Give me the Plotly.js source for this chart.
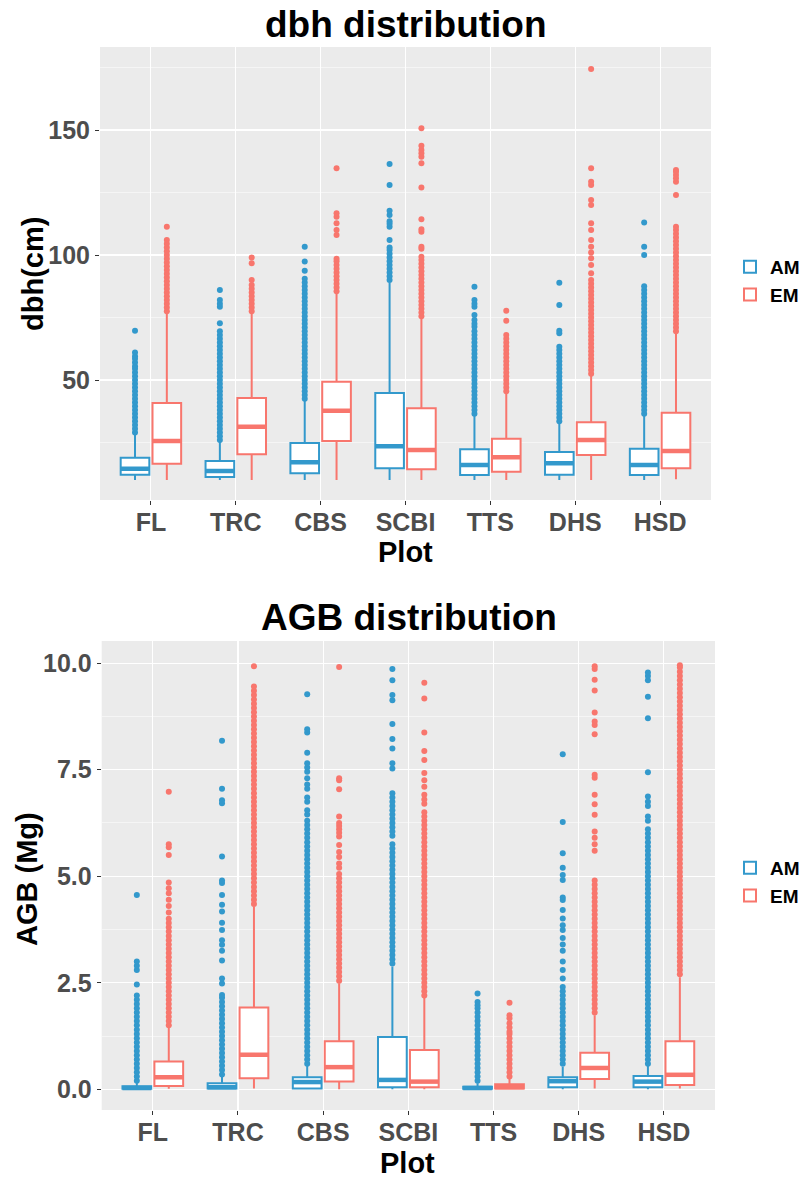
<!DOCTYPE html>
<html>
<head>
<meta charset="utf-8">
<script src="https://cdn.plot.ly/plotly-3.0.1.min.js"></script>
<style>
  html, body { margin: 0; padding: 0; background: #ffffff; }
  #chart { width: 810px; height: 1180px; }
</style>
</head>
<body>
<div id="chart"></div>
<script>
// Plots (x categories) and mycorrhizal groups
const categories = ['FL', 'TRC', 'CBS', 'SCBI', 'TTS', 'DHS', 'HSD'];
const groups = ['AM', 'EM'];

// ---- dbh (cm): box statistics per plot ----
const dbhAmQ1  = [12.1, 11.2, 12.7, 14.7, 12.0, 12.1, 12.0];
const dbhAmMed = [14.5, 13.6, 17.1, 23.5, 16.0, 16.7, 16.0];
const dbhAmQ3  = [18.9, 17.6, 24.8, 44.8, 22.3, 21.2, 22.5];
const dbhAmLo  = [10, 10, 10, 10, 10, 10, 10];
const dbhAmHi  = [28.4, 25.3, 42.0, 89.0, 36.0, 32.7, 36.0];

const dbhEmQ1  = [16.5, 20.3, 25.6, 14.3, 13.3, 20.0, 14.7];
const dbhEmMed = [25.6, 31.3, 37.7, 22.0, 19.1, 26.0, 21.6];
const dbhEmQ3  = [40.8, 42.8, 49.3, 38.7, 26.5, 33.1, 36.9];
const dbhEmLo  = [10, 10, 10, 10, 10, 10, 10.3];
const dbhEmHi  = [76.7, 76.8, 84.7, 74.7, 44.7, 51.6, 68.7];

// dbh outliers per plot
const dbhAmOut = [
  [29,30.5,32,33.5,35,36.5,38,39.5,41,42.5,44,45.5,47,48.5,50,51.5,53,54.5,55.5,57,58.5,59.5,61,69.7],
  [26,27.5,29,30.5,32,33.5,35,36.5,38,39.5,41,42.5,44,45.5,47,48.5,50,51.5,53,54.5,56,57.5,59,60.5,62,63.5,65,66.5,68,69.5,72.7,79.3,80.5,82,86],
  [42.5,44,45.5,47,48.5,50,51.5,53,54.5,56,57.5,59,60.5,62,63.5,65,66.5,68,69.5,71,72.5,74,75.5,77,78.5,80,81.5,83,84.5,86,87.5,89,90.5,93.7,97.4,103.3],
  [90,91.5,93,94.5,96,97.5,99,100.5,102,103,106,111.3,112.5,113.5,116,117.7,128,136.4],
  [36.5,38,39.5,41,42.5,44,45.5,47,48.5,50,51.5,53,54.5,56,57.5,59,60.5,62,63.5,65,66.5,68,69.5,71.3,72.5,74,76,79.3,80.5,82,87.3],
  [33.5,35,36.5,38,39.5,41,42.5,44,45.5,47,48.5,50,51.5,53,54.5,56,57.5,59,60.5,62,63.3,68.7,69.7,80,88.9],
  [36.5,38,39.5,41,42.5,44,45.5,47,48.5,50,51.5,53,54.5,56,57.5,59,60.5,62,63.5,65,66.5,68,69.5,71,72.5,74,75.5,77,78.5,80,81.5,83,84.5,86,87.5,100,103.3,113]
];
const dbhEmOut = [
  [77.5,79,80.5,82,83.5,85,86.5,88,89.5,91,92.5,94,95.5,97,98.5,100,101.5,103,104.5,106,111.3],
  [77.5,79,80.5,82,83.5,85,86.5,88,90,96.7,99],
  [85.5,87,88.5,90,91.5,93,94.5,96,97.5,98.5,108,110,112.7,115.3,116.7,134.7],
  [75.5,77,78.5,80,81.5,83,84.5,86,87.5,89,90.5,92,93.5,95,96.5,98,99.3,102.5,103.3,109.3,110.3,114.3,127,136.7,139.3,140.7,142,143.7,150.7],
  [45.5,47,48.5,50,51.5,53,54.5,56,57.5,59,60.5,62,63.5,65,66.5,68,73.7,77.7],
  [52.5,54,55.5,57,58.5,60,61.5,63,64.5,66,67.5,69,70.5,72,73.5,75,76.5,78,79.5,81,82.5,84,85.5,87,88.5,90,92.7,96,98.7,101,103.3,106,110,112.7,120,122,128,129.3,134.7,174.4],
  [69.5,71,72.5,74,75.5,77,78.5,80,81.5,83,84.5,86,87.5,89,90.5,92,93.5,95,96.5,98,99.5,101,102.5,104,105.5,107,108.5,110,111.3,124,129.3,130.7,132,133.3,134]
];

// ---- AGB (Mg): box statistics per plot ----
const agbAmQ1  = [0.01, 0.02, 0.02, 0.05, 0.01, 0.05, 0.05];
const agbAmMed = [0.03, 0.05, 0.17, 0.22, 0.03, 0.19, 0.18];
const agbAmQ3  = [0.07, 0.14, 0.28, 1.23, 0.06, 0.28, 0.31];
const agbAmLo  = [0.0, 0.0, 0.0, 0.0, 0.0, 0.0, 0.0];
const agbAmHi  = [0.15, 0.30, 0.57, 2.88, 0.14, 0.53, 0.57];

const agbEmQ1  = [0.08, 0.26, 0.18, 0.05, 0.02, 0.24, 0.10];
const agbEmMed = [0.28, 0.81, 0.52, 0.18, 0.05, 0.50, 0.34];
const agbEmQ3  = [0.65, 1.92, 1.13, 0.92, 0.12, 0.86, 1.13];
const agbEmLo  = [0.01, 0.02, 0.0, 0.0, 0.0, 0.02, 0.02];
const agbEmHi  = [1.47, 4.29, 2.49, 2.14, 0.26, 1.74, 2.63];

// AGB outliers per plot
const agbAmOut = [
  [0.2,0.3,0.4,0.5,0.6,0.7,0.8,0.9,1.0,1.1,1.2,1.3,1.4,1.5,1.6,1.7,1.8,1.9,2.0,2.1,2.2,2.46,2.8,2.9,3.0,4.56],
  [0.35,0.45,0.55,0.65,0.75,0.85,0.95,1.05,1.15,1.25,1.35,1.45,1.55,1.65,1.75,1.85,1.95,2.05,2.15,2.21,2.48,2.6,3.02,3.25,3.39,3.5,3.74,3.91,4.17,4.33,4.56,4.84,4.9,5.46,6.71,6.78,7.05,8.18],
  [0.6,0.7,0.8,0.9,1.0,1.1,1.2,1.3,1.4,1.5,1.6,1.7,1.8,1.9,2.0,2.1,2.2,2.3,2.4,2.5,2.6,2.7,2.8,2.9,3.0,3.1,3.2,3.3,3.4,3.5,3.6,3.7,3.8,3.9,4.0,4.1,4.2,4.3,4.4,4.5,4.6,4.7,4.8,4.9,5.0,5.1,5.2,5.3,5.4,5.5,5.6,5.7,5.8,5.9,6.0,6.1,6.2,6.3,6.45,6.55,6.75,6.85,7.05,7.15,7.3,7.45,7.55,7.65,7.9,8.37,8.45,9.27],
  [2.95,3.05,3.15,3.25,3.35,3.45,3.55,3.65,3.75,3.85,3.95,4.05,4.15,4.25,4.35,4.45,4.55,4.65,4.75,4.85,4.95,5.05,5.15,5.25,5.35,5.45,5.55,5.65,5.75,5.95,6.05,6.15,6.25,6.35,6.45,6.55,6.65,6.75,6.85,6.95,7.53,7.65,8.0,8.22,8.57,9.13,9.25,9.6,9.86],
  [0.2,0.3,0.4,0.5,0.6,0.7,0.8,0.9,1.0,1.1,1.2,1.3,1.4,1.5,1.6,1.7,1.8,1.9,1.97,2.05,2.25],
  [0.6,0.7,0.8,0.9,1.0,1.1,1.2,1.3,1.4,1.5,1.6,1.7,1.8,1.9,2.0,2.1,2.2,2.3,2.4,2.6,2.8,3.0,3.25,3.4,3.55,3.74,3.85,4.01,4.21,4.44,4.5,4.91,5.03,5.2,5.54,6.27,7.86],
  [0.6,0.7,0.8,0.9,1.0,1.1,1.2,1.3,1.4,1.5,1.6,1.7,1.8,1.9,2.0,2.1,2.2,2.3,2.4,2.5,2.6,2.7,2.8,2.9,3.0,3.1,3.2,3.3,3.4,3.5,3.6,3.7,3.8,3.9,4.0,4.1,4.2,4.3,4.4,4.5,4.6,4.7,4.8,4.9,5.0,5.1,5.2,5.3,5.4,5.5,5.6,5.7,5.8,5.9,6.0,6.1,6.3,6.4,6.65,6.75,6.87,7.44,8.71,9.21,9.6,9.7,9.78]
];
const agbEmOut = [
  [1.5,1.6,1.7,1.8,1.9,2.0,2.1,2.2,2.3,2.4,2.5,2.6,2.7,2.8,2.9,3.0,3.1,3.2,3.3,3.4,3.5,3.6,3.7,3.8,3.9,4.0,4.15,4.3,4.45,4.6,4.72,4.85,5.5,5.68,5.75,6.98],
  [4.35,4.45,4.55,4.65,4.75,4.85,4.95,5.05,5.15,5.25,5.35,5.45,5.55,5.65,5.75,5.85,5.95,6.05,6.15,6.25,6.35,6.45,6.55,6.65,6.75,6.85,6.95,7.05,7.15,7.25,7.35,7.45,7.55,7.65,7.75,7.85,7.95,8.05,8.15,8.25,8.35,8.45,8.55,8.65,8.75,8.85,8.95,9.05,9.15,9.25,9.35,9.45,9.93],
  [2.55,2.65,2.75,2.85,2.95,3.05,3.15,3.25,3.35,3.45,3.55,3.65,3.75,3.85,3.95,4.05,4.15,4.25,4.35,4.45,4.55,4.65,4.75,4.85,4.95,5.05,5.2,5.3,5.45,5.57,5.73,5.93,6.02,6.1,6.18,6.25,6.4,7.04,7.25,7.3,9.91],
  [2.2,2.3,2.4,2.5,2.6,2.7,2.8,2.9,3.0,3.1,3.2,3.3,3.4,3.5,3.6,3.7,3.8,3.9,4.0,4.1,4.2,4.3,4.4,4.5,4.6,4.7,4.8,4.9,5.0,5.1,5.2,5.3,5.4,5.5,5.6,5.7,5.8,5.9,6.0,6.1,6.2,6.3,6.4,6.5,6.7,6.8,6.91,7.1,7.25,7.42,7.73,7.94,8.37,9.17,9.54],
  [0.3,0.4,0.5,0.6,0.7,0.8,0.9,1.0,1.1,1.2,1.3,1.35,1.45,1.55,1.67,1.74,2.03],
  [1.8,1.9,2.0,2.1,2.2,2.3,2.4,2.5,2.6,2.7,2.8,2.9,3.0,3.1,3.2,3.3,3.4,3.5,3.6,3.7,3.8,3.9,4.0,4.1,4.2,4.3,4.4,4.5,4.6,4.7,4.8,4.9,5.6,5.75,5.9,6.05,6.44,6.69,6.91,7.31,7.38,8.33,8.55,8.63,8.84,9.36,9.61,9.86,9.93],
  [2.7,2.8,2.9,3.0,3.1,3.2,3.3,3.4,3.5,3.6,3.7,3.8,3.9,4.0,4.1,4.2,4.3,4.4,4.5,4.6,4.7,4.8,4.9,5.0,5.1,5.2,5.3,5.4,5.5,5.6,5.7,5.8,5.9,6.0,6.1,6.2,6.3,6.4,6.5,6.6,6.7,6.8,6.9,7.0,7.1,7.2,7.3,7.4,7.5,7.6,7.7,7.8,7.9,8.0,8.1,8.2,8.3,8.4,8.5,8.6,8.7,8.8,8.9,9.0,9.1,9.2,9.3,9.4,9.5,9.6,9.7,9.8,9.9,9.95]
];

// ---- styling ----
const COLORS = { AM: '#3399CC', EM: '#F8766D' };
const FONT = 'Liberation Sans, Arial, sans-serif';
const DODGE = 0.1875;     // half of the dodge width per plot
const BOX_W = 0.3375;     // box width in category units
const W = 810, H = 1180;

function px(x) { return x / W; }
function py(y) { return 1 - y / H; }

function panelTraces(stats, outliers, xa, ya, legendId) {
  const traces = [];
  groups.forEach((g, gi) => {
    const s = stats[g];
    const off = gi === 0 ? -DODGE : DODGE;
    const pos = categories.map((_, i) => i + off);
    traces.push({
      type: 'box', name: g, x: pos,
      q1: s.q1, median: s.med, q3: s.q3, lowerfence: s.lo, upperfence: s.hi,
      width: BOX_W, boxpoints: false, whiskerwidth: 0,
      fillcolor: 'white', line: { color: COLORS[g], width: 2 },
      xaxis: xa, yaxis: ya, legend: legendId, legendgroup: g,
      hoverinfo: 'skip'
    });
    // thicker median bar
    const mx = [], my = [];
    pos.forEach((p, i) => {
      mx.push(p - BOX_W / 2, p + BOX_W / 2, null);
      my.push(s.med[i], s.med[i], null);
    });
    traces.push({
      type: 'scatter', mode: 'lines', x: mx, y: my,
      line: { color: COLORS[g], width: 4.5 },
      xaxis: xa, yaxis: ya, showlegend: false, hoverinfo: 'skip'
    });
    // outlying points
    const ox = [], oy = [];
    outliers[g].forEach((vals, i) => {
      vals.forEach(v => { ox.push(i + off); oy.push(v); });
    });
    traces.push({
      type: 'scatter', mode: 'markers', x: ox, y: oy,
      marker: { color: COLORS[g], size: 6 },
      xaxis: xa, yaxis: ya, showlegend: false, hoverinfo: 'skip'
    });
  });
  return traces;
}

const traces = [].concat(
  panelTraces(
    { AM: { q1: dbhAmQ1, med: dbhAmMed, q3: dbhAmQ3, lo: dbhAmLo, hi: dbhAmHi },
      EM: { q1: dbhEmQ1, med: dbhEmMed, q3: dbhEmQ3, lo: dbhEmLo, hi: dbhEmHi } },
    { AM: dbhAmOut, EM: dbhEmOut }, 'x', 'y', 'legend'),
  panelTraces(
    { AM: { q1: agbAmQ1, med: agbAmMed, q3: agbAmQ3, lo: agbAmLo, hi: agbAmHi },
      EM: { q1: agbEmQ1, med: agbEmMed, q3: agbEmQ3, lo: agbEmLo, hi: agbEmHi } },
    { AM: agbAmOut, EM: agbEmOut }, 'x2', 'y2', 'legend2')
);

const tickFont = { family: FONT, size: 25, color: '#4D4D4D', weight: 'bold' };

function xAxis(domain, anchor) {
  return {
    domain: domain, anchor: anchor, range: [-0.6, 6.6],
    tickmode: 'array', tickvals: categories.map((_, i) => i), ticktext: categories,
    showgrid: true, gridcolor: '#FFFFFF', gridwidth: 1.1, zeroline: false, showline: false,
    ticks: 'outside', ticklen: 4, tickwidth: 1, tickcolor: '#333333',
    ticklabelstandoff: -4,
    tickfont: tickFont, fixedrange: true
  };
}
function yAxis(domain, anchor, range, dtick, minorDtick, fmt) {
  return {
    domain: domain, anchor: anchor, range: range,
    tickmode: 'linear', tick0: 0, dtick: dtick, tickformat: fmt,
    showgrid: true, gridcolor: '#FFFFFF', gridwidth: 1.1, zeroline: false, showline: false,
    minor: { tick0: 0, dtick: minorDtick, showgrid: true, gridcolor: '#FFFFFF', gridwidth: 0.5, ticks: '' },
    ticks: 'outside', ticklen: 4, tickwidth: 1, tickcolor: '#333333',
    tickfont: tickFont, fixedrange: true
  };
}

function legendAt(yCenter) {
  return {
    x: px(730), y: py(yCenter), xanchor: 'left', yanchor: 'middle',
    bgcolor: 'rgba(0,0,0,0)', borderwidth: 0, tracegroupgap: 0,
    font: { family: FONT, size: 19, color: '#000000', weight: 'bold' }
  };
}

const titleFont = { family: FONT, size: 37, color: '#000000', weight: 'bold' };
const axisTitleFont = { family: FONT, size: 29, color: '#000000', weight: 'bold' };

function note(text, x, y, font, angle) {
  return {
    text: text, xref: 'paper', yref: 'paper', x: px(x), y: py(y),
    xanchor: 'center', yanchor: 'middle', showarrow: false,
    font: font, textangle: angle || 0
  };
}

const layout = {
  width: W, height: H,
  margin: { l: 0, r: 0, t: 0, b: 0 },
  paper_bgcolor: '#FFFFFF', plot_bgcolor: '#EBEBEB',
  boxmode: 'overlay',
  font: { family: FONT },
  xaxis:  xAxis([px(100), px(711)], 'y'),
  yaxis:  yAxis([py(500), py(47)], 'x', [2, 183.2], 50, 25, ''),
  xaxis2: xAxis([px(101.7), px(715)], 'y2'),
  yaxis2: yAxis([py(1110), py(641)], 'x2', [-0.486, 10.52], 2.5, 1.25, '.1f'),
  legend: legendAt(281),
  legend2: legendAt(882),
  annotations: [
    note('dbh distribution', 405.5, 24, titleFont),
    note('AGB distribution', 409, 617, titleFont),
    note('Plot', 405, 552, axisTitleFont),
    note('Plot', 408, 1163, axisTitleFont),
    note('dbh(cm)', 33, 274, axisTitleFont, -90),
    note('AGB (Mg)', 27, 879, axisTitleFont, -90)
  ],
  showlegend: true
};

Plotly.newPlot('chart', traces, layout, { staticPlot: true, displayModeBar: false });
</script>
</body>
</html>
